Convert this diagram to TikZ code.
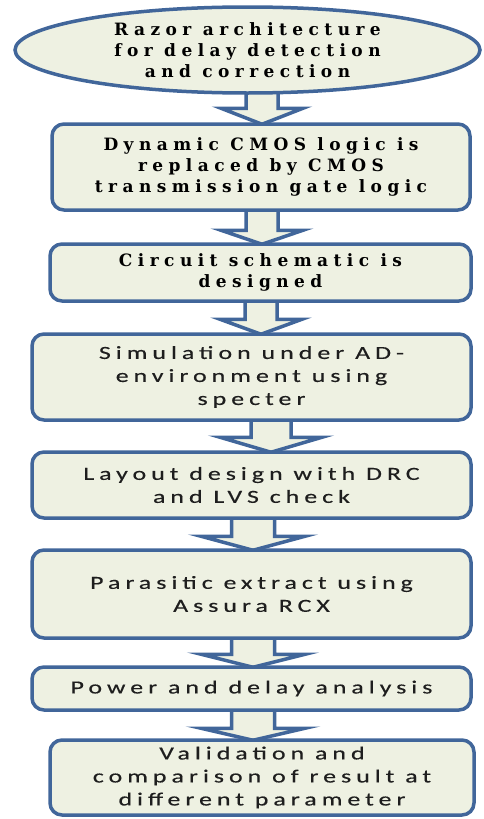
\documentclass[tikz,border=0pt]{standalone}
\usepackage{fontspec}
\setmainfont{DejaVu Serif}[LetterSpace=32]
\newfontfamily\razorsans{Carlito}[FakeStretch=1.4,LetterSpace=27,FakeBold=0.4]
\usetikzlibrary{shapes.geometric,calc,backgrounds}
\definecolor{boxfill}{RGB}{238,241,226}
\definecolor{boxline}{RGB}{65,102,154}
\definecolor{boxtext}{RGB}{30,30,30}
% block arrow: from, to, x, shaft half width, head half width, head length
\newcommand{\flowarrow}[6]{%
	\coordinate (top) at ($(#1.south -| #3,0)+(0,6)$);
	\coordinate (tip) at ($(#2.north -| #3,0)+(0,-2)$);
	\draw[flowarrow] ($(top)+(-#4,0)$) -- ($(tip)+(-#4,#6)$) -- ($(tip)+(-#5,#6)$)
		-- (tip) -- ($(tip)+(#5,#6)$) -- ($(tip)+(#4,#6)$) -- ($(top)+(#4,0)$);}
\begin{document}
\begin{tikzpicture}[x=1pt,y=1pt,
	flowbox/.style={draw=boxline,fill=boxfill,line width=3.5pt,rounded corners=12pt,inner sep=0pt,align=center},
	serifbox/.style={flowbox,font=\rmfamily\bfseries\fontsize{17}{21}\selectfont,text=black},
	sansbox/.style={flowbox,font=\razorsans\fontsize{18.5}{23}\selectfont,text=boxtext},
	startbox/.style={serifbox,ellipse,rounded corners=0pt},
	flowarrow/.style={draw=boxline,fill=boxfill,line width=3.5pt,line join=miter}]
	\useasboundingbox (0,0) rectangle (483,-819);
	% boxes
	\node[startbox,minimum width=465,minimum height=86] (s0) at (247.5,-50) {Razor architecture\\for delay detection\\and correction};
	\node[serifbox,minimum width=418,minimum height=86] (s1) at (261,-167) {Dynamic CMOS logic is\\replaced by CMOS\\transmission gate logic};
	\node[serifbox,minimum width=421,minimum height=57] (s2) at (260.5,-272.5) {Circuit schematic is\\designed};
	\node[sansbox,minimum width=439,minimum height=86] (s3) at (251.5,-377) {Simulation under AD-\\environment using\\specter};
	\node[sansbox,minimum width=439,minimum height=66] (s4) at (251.5,-485) {Layout design with DRC\\and LVS check};
	\node[sansbox,minimum width=439,minimum height=88] (s5) at (251.5,-594) {Parasitic extract using\\Assura RCX};
	\node[sansbox,minimum width=439,minimum height=43] (s6) at (251.5,-688.5) {Power and delay analysis};
	\node[sansbox,minimum width=424,minimum height=75] (s7) at (262,-777.5) {Validation and\\comparison of result at\\different parameter};
	% arrows
	\begin{scope}[on background layer]
	\flowarrow{s0}{s1}{262}{16}{41}{16}
	\flowarrow{s1}{s2}{262}{16}{41}{14}
	\flowarrow{s2}{s3}{261}{16}{41}{15}
	\flowarrow{s3}{s4}{271}{20}{51}{15}
	\flowarrow{s4}{s5}{253}{21.5}{52}{14}
	\flowarrow{s5}{s6}{253}{21.5}{52}{13}
	\flowarrow{s6}{s7}{253}{21.5}{52}{12}
	\end{scope}
\end{tikzpicture}
\end{document}
